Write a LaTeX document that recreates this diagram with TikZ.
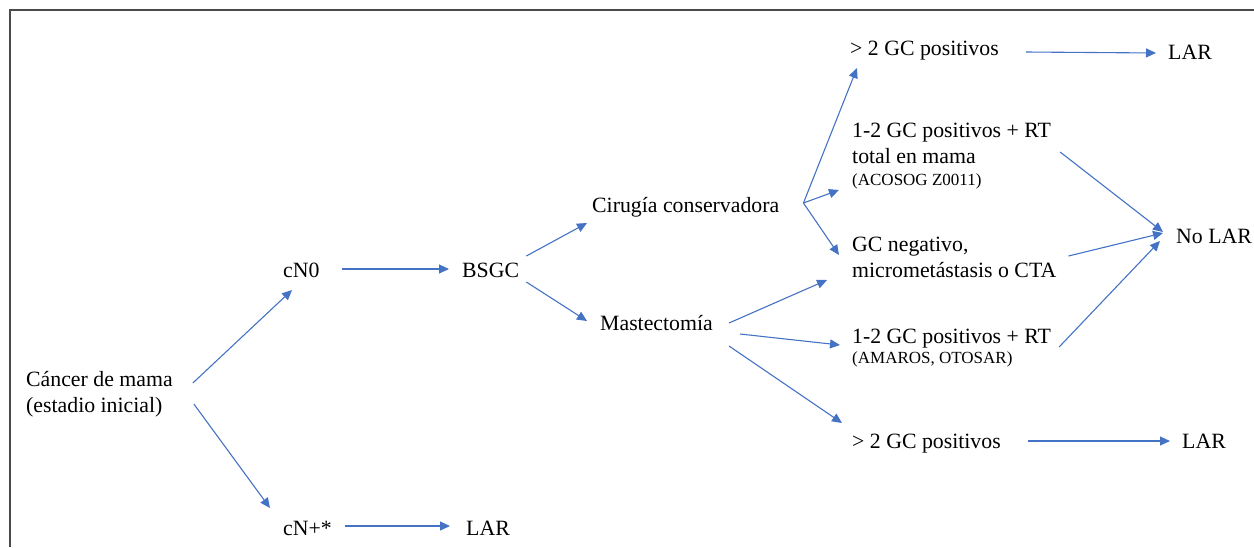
\documentclass[tikz,border=0pt]{standalone}
\usepackage{fontspec}
\setmainfont{Liberation Serif}
\usetikzlibrary{arrows.meta}

\definecolor{flechaazul}{HTML}{4472C4}
\definecolor{marco}{HTML}{4A4A4A}

\begin{document}
\begin{tikzpicture}[x = 1pt, y = -1pt,
    txt/.style = {anchor = base west, inner sep = 0pt, align = left,
                  font = \fontsize{21.8}{26}\selectfont},
    flecha/.style = {draw = flechaazul, line width = 1.1pt,
                     -{Triangle[length = 10pt, width = 9pt]}}]

    \def \cita {\fontsize{17}{20}\selectfont};

    \useasboundingbox (0, 0) rectangle (1254, 547);

    % marco
    \draw [marco, line width = 1.6pt] (10, 547) -- (10, 10) -- (1254, 10);

    % nodos (los de varias lineas van por la base de la ultima)
    \node [txt] (cancer) at (26, 412)   {Cáncer de mama\\(estadio inicial)};
    \node [txt] (cn0)    at (283, 277)  {cN0};
    \node [txt] (cnmas)  at (283, 535)  {cN+*};
    \node [txt] (larc)   at (466, 535)  {LAR};
    \node [txt] (bsgc)   at (462, 277)  {BSGC};
    \node [txt] (cirugia) at (592, 212) {Cirugía conservadora};
    \node [txt] (mast)   at (600, 330)  {Mastectomía};

    \node [txt] (gtdosa) at (850, 55)   {> 2 GC positivos};
    \node [txt] (lara)   at (1168, 59)  {LAR};
    \node [txt] (rtmama) at (852, 185)  {1-2 GC positivos + RT\\total en mama\\[-4pt]{\cita (ACOSOG Z0011)}};
    \node [txt] (gcneg)  at (852, 277)  {GC negativo,\\micrometástasis o CTA};
    \node [txt] (rtamaros) at (852, 363) {1-2 GC positivos + RT\\[-6pt]{\cita (AMAROS, OTOSAR)}};
    \node [txt] (gtdosb) at (852, 448)  {> 2 GC positivos};
    \node [txt] (larb)   at (1182, 448) {LAR};
    \node [txt] (nolar)  at (1176, 243) {No LAR};

    \coordinate (rama) at ([shift = {(24, -9)}]cirugia.base east);

    % flechas
    \draw [flecha] ([shift = {(20, -29)}]cancer.base east) -- ([shift = {(9, 13)}]cn0.base west);
    \draw [flecha] ([shift = {(21, -8)}]cancer.base east) -- ([shift = {(-13, -27)}]cnmas.base west);
    \draw [flecha] ([shift = {(13, -9)}]cnmas.base east) -- ([shift = {(-16, -9)}]larc.base west);
    \draw [flecha] ([shift = {(22, -8)}]cn0.base east) -- ([shift = {(-13, -8)}]bsgc.base west);
    \draw [flecha] ([shift = {(7, -21)}]bsgc.base east) -- ([shift = {(-5, 11)}]cirugia.base west);
    \draw [flecha] ([shift = {(7, 5)}]bsgc.base east) -- ([shift = {(-13, -9)}]mast.base west);

    \draw [flecha] (rama) -- ([shift = {(7, 13)}]gtdosa.base west);
    \draw [flecha] (rama) -- ([shift = {(-13, 5)}]rtmama.base west);
    \draw [flecha] (rama) -- ([shift = {(-13, -22)}]gcneg.base west);

    \draw [flecha] ([shift = {(16, -7)}]mast.base east) -- ([shift = {(-25, 3)}]gcneg.base west);
    \draw [flecha] ([shift = {(27, 4)}]mast.base east) -- ([shift = {(-12, -18)}]rtamaros.base west);
    \draw [flecha] ([shift = {(16, 16)}]mast.base east) -- ([shift = {(-10, -25)}]gtdosb.base west);

    \draw [flecha] ([shift = {(27, -3)}]gtdosa.base east) -- ([shift = {(-12, -6)}]lara.base west);
    \draw [flecha] ([shift = {(27, -7)}]gtdosb.base east) -- ([shift = {(-12, -7)}]larb.base west);

    \draw [flecha] ([shift = {(9, -33)}]rtmama.base east) -- ([shift = {(-13, -11)}]nolar.base west);
    \draw [flecha] ([shift = {(12, -21)}]gcneg.base east) -- ([shift = {(-13, -10)}]nolar.base west);
    \draw [flecha] ([shift = {(8, -16)}]rtamaros.base east) -- ([shift = {(-16, -2)}]nolar.base west);

\end{tikzpicture}
\end{document}
